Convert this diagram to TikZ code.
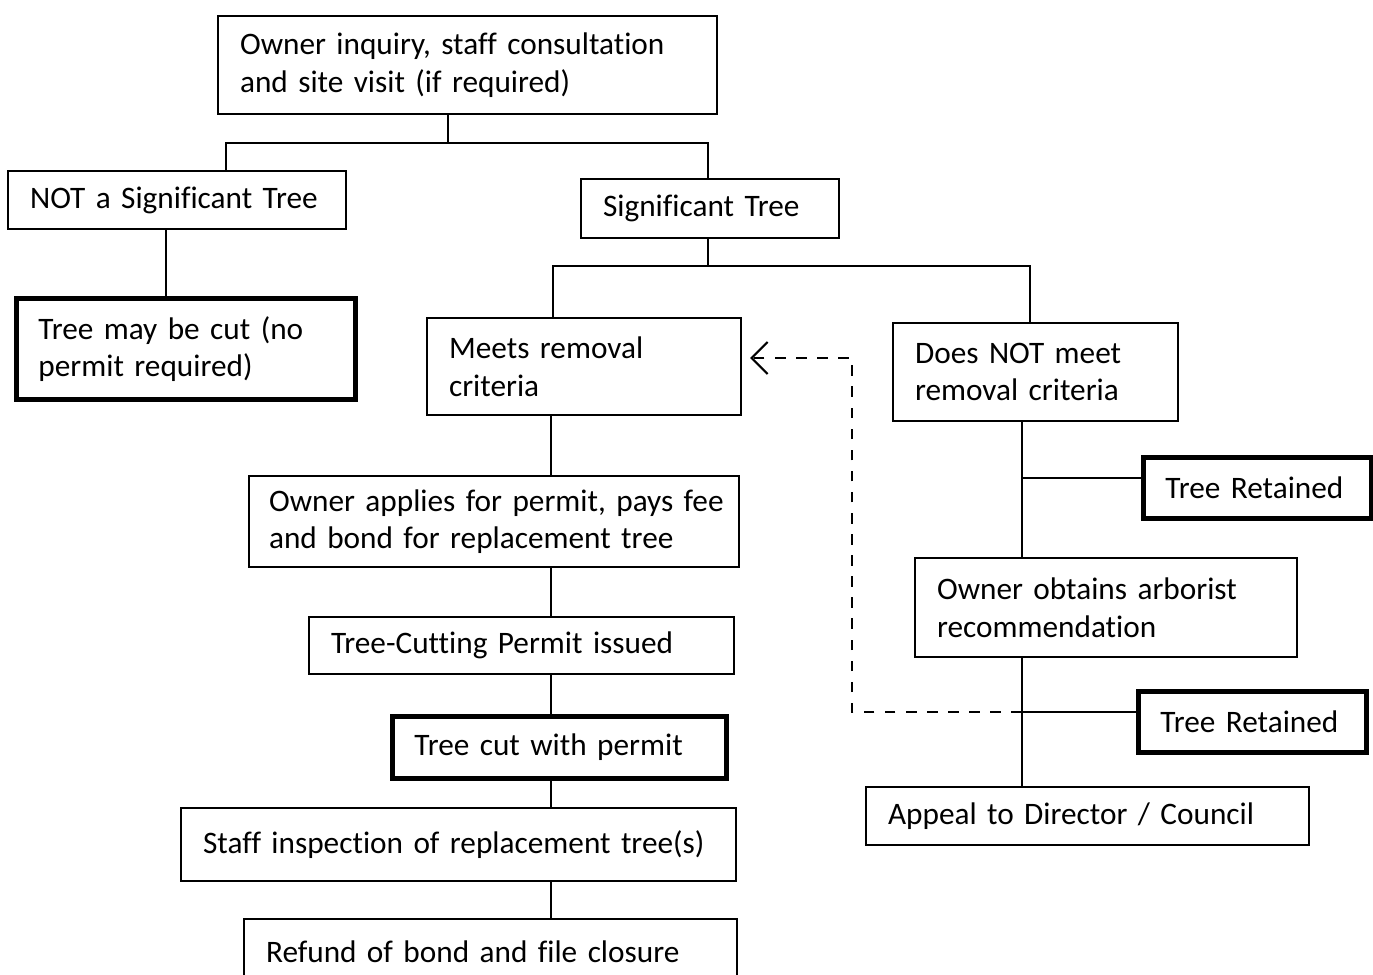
\documentclass[tikz,border=0pt]{standalone}
\usepackage{fontspec}
\setmainfont[Ligatures=CommonOff]{Carlito}
\usetikzlibrary{arrows.meta,positioning}

\begin{document}
\begin{tikzpicture}[
    box/.style={draw, line width=0.6pt, anchor=north west, align=left,
      inner xsep=0.22cm, inner ysep=0pt, font=\fontsize{8.9}{10.7}\selectfont},
    endbox/.style={box, line width=1.4pt},
    link/.style={line width=0.6pt},
    back/.style={link, dashed, -{Straight Barb[length=1.6mm,width=3.2mm]}}
  ]
  \useasboundingbox (0,0) rectangle (13.73,-9.75);

  % 起点
  \node[box, text width=4.55cm, minimum height=0.98cm] (inquiry) at (2.17,-0.15)
    {Owner inquiry, staff consultation\\and site visit (if required)};

  % 第一层判断
  \node[box, text width=2.94cm, minimum height=0.58cm] (notsig) at (0.07,-1.70)
    {NOT a Significant Tree};
  \node[box, text width=2.14cm, minimum height=0.59cm] (sig) at (5.80,-1.78)
    {Significant Tree};
  \node[endbox, text width=2.95cm, minimum height=1.01cm] (maycut) at (0.14,-2.96)
    {Tree may be cut (no\\permit required)};

  % 第二层判断
  \node[box, text width=2.70cm, minimum height=0.97cm] (meets) at (4.26,-3.17)
    {Meets removal\\criteria};
  \node[box, text width=2.41cm, minimum height=0.98cm] (notmeets) at (8.92,-3.22)
    {Does NOT meet\\removal criteria};

  % 左侧：许可流程
  \node[box, inner xsep=0.2cm, text width=4.50cm, minimum height=0.91cm] (apply) at (2.48,-4.75)
    {\mbox{Owner applies for permit, pays fee}\\and bond for replacement tree};
  \node[box, text width=3.81cm, minimum height=0.57cm] (permit) at (3.08,-6.16)
    {Tree-Cutting Permit issued};
  \node[endbox, text width=2.90cm, minimum height=0.62cm] (cut) at (3.90,-7.14)
    {Tree cut with permit};
  \node[box, text width=5.11cm, minimum height=0.73cm] (inspect) at (1.80,-8.07)
    {Staff inspection of replacement tree(s)};
  \node[box, text width=4.49cm, minimum height=0.65cm] (refund) at (2.43,-9.18)
    {Refund of bond and file closure};

  % 右侧：保留 / 申诉
  \node[endbox, text width=1.84cm, minimum height=0.61cm] (kept1) at (11.41,-4.55)
    {Tree Retained};
  \node[box, text width=3.38cm, minimum height=0.99cm] (arborist) at (9.14,-5.57)
    {Owner obtains arborist\\recommendation};
  \node[endbox, text width=1.84cm, minimum height=0.61cm] (kept2) at (11.36,-6.89)
    {Tree Retained};
  \node[box, text width=3.99cm, minimum height=0.58cm] (appeal) at (8.65,-7.86)
    {Appeal to Director / Council};

  % 分支连线
  \coordinate (busa) at (4.48,-1.43);
  \coordinate (busal) at (2.26,-1.43);
  \coordinate (busar) at (7.08,-1.43);
  \draw[link] (inquiry.south -| busa) -- (busa);
  \draw[link] (notsig.north -| busal) -- (busal) -- (busar) -- (sig.north -| busar);
  \draw[link] ([xshift=-0.11cm]notsig.south) -- ([xshift=-0.11cm]notsig.south |- maycut.north);

  \coordinate (busb) at (7.08,-2.66);
  \coordinate (busbl) at (5.53,-2.66);
  \coordinate (busbr) at (10.30,-2.66);
  \draw[link] (sig.south -| busb) -- (busb);
  \draw[link] (meets.north -| busbl) -- (busbl) -- (busbr) -- (notmeets.north -| busbr);

  % 左侧竖线
  \coordinate (lspine) at (5.51,0);
  \draw[link] (meets.south -| lspine) -- (apply.north -| lspine);
  \draw[link] (apply.south -| lspine) -- (permit.north -| lspine);
  \draw[link] (permit.south -| lspine) -- (cut.north -| lspine);
  \draw[link] (cut.south -| lspine) -- (inspect.north -| lspine);
  \draw[link] (inspect.south -| lspine) -- (refund.north -| lspine);

  % 右侧竖线
  \coordinate (rspine) at (10.22,0);
  \coordinate (tee1) at (10.22,-4.78);
  \coordinate (tee2) at (10.22,-7.12);
  \draw[link] (notmeets.south -| rspine) -- (arborist.north -| rspine);
  \draw[link] (tee1) -- (tee1 -| kept1.west);
  \draw[link] (arborist.south -| rspine) -- (appeal.north -| rspine);
  \draw[link] (tee2) -- (tee2 -| kept2.west);

  % 返回虚线
  \coordinate (turn) at (8.52,-3.58);
  \draw[back] (tee2) -| (turn) -- ([xshift=0.08cm]meets.east |- turn);
\end{tikzpicture}
\end{document}
